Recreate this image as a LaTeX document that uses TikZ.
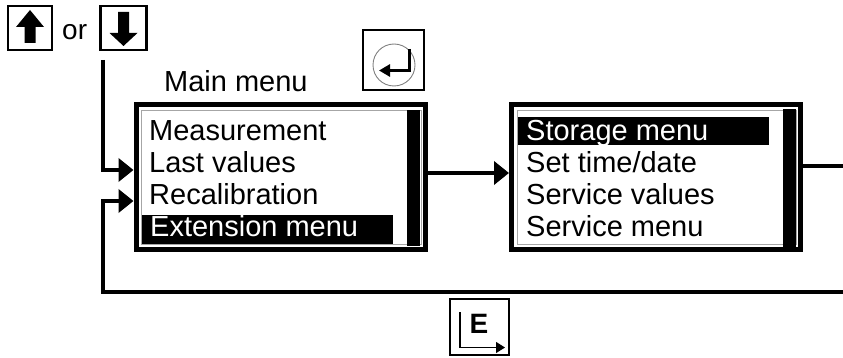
\documentclass[tikz,border=0pt]{standalone}
\usepackage{fontspec}
\setmainfont{Liberation Sans}
\usetikzlibrary{arrows.meta,calc}
\begin{document}
\begin{tikzpicture}[x=1pt,y=-1pt,
  menubox/.style={draw, line width=5pt, minimum width=289pt, minimum height=145pt, inner sep=0pt},
  keybox/.style={draw, line width=2.5pt, inner sep=0pt},
  item/.style={anchor=base west, inner sep=0pt, font=\fontsize{29}{29}\selectfont},
  hiitem/.style={item, text=white},
  innerline/.style={draw=gray!70, line width=0.8pt},
  conn/.style={line width=4.5pt},
  bigtip/.style={-{Triangle[length=15pt,width=23pt]}},
]
\useasboundingbox (0,0) rectangle (843,358);

% ---------- keys at top left ----------
\node[keybox, minimum width=44pt, minimum height=44pt] (upkey) at (30,28) {};
\fill (30,10) -- (44,27) -- (35.5,27) -- (35.5,43) -- (24.5,43) -- (24.5,27) -- (16,27) -- cycle;
\node[item, font=\fontsize{28}{28}\selectfont] (ortext) at (62,40) {or};
\node[keybox, minimum width=46pt, minimum height=44pt] (downkey) at (123.5,28) {};
\fill (123.5,46) -- (137.5,33) -- (129,33) -- (129,12) -- (118,12) -- (118,33) -- (109.5,33) -- cycle;

% ---------- enter key ----------
\node[keybox, minimum width=61pt, minimum height=60pt] (enterkey) at (393.5,60) {};
\draw[gray, line width=0.9pt] (394,65) circle (21);
\draw[line width=3pt, -{Triangle[length=11pt,width=12pt]}] (409.5,49) -- (409.5,70.5) -- (379,70.5);

% ---------- main menu ----------
\node[item] (maintitle) at (164,92) {Main menu};
\node[menubox] (mainbox) at (280.5,177) {};
\draw[innerline] (141,110) rectangle (421,244);
\fill (407,110) rectangle (420,246);
\node[item] (m1) at (149,140.5) {Measurement};
\node[item] (m2) at (149,172.5) {Last values};
\node[item] (m3) at (149,204.5) {Recalibration};
\fill (142,215) rectangle (393,244);
\node[hiitem] (m4) at (150,236.5) {Extension menu};

% ---------- extension menu ----------
\node[menubox] (secbox) at (656,177) {};
\draw[innerline] (517,110) rectangle (796,244);
\fill (783,109) rectangle (796,247);
\fill (518,117) rectangle (769,145);
\node[hiitem] (s1) at (526,140.5) {Storage menu};
\node[item] (s2) at (526,172.5) {Set time/date};
\node[item] (s3) at (526,204.5) {Service values};
\node[item] (s4) at (526,236.5) {Service menu};

% ---------- E key ----------
\node[keybox, minimum width=59pt, minimum height=56pt] (ekey) at (479.5,327) {};
\node[anchor=base west, inner sep=0pt, font=\fontsize{28}{28}\selectfont\bfseries] (etext) at (469.5,333) {E};
\draw[line width=1.2pt, -{Triangle[length=9pt,width=11pt]}] (460,312) -- (460,347.5) -- (505,347.5);

% ---------- connectors ----------
\coordinate (keysdown) at (103,60);
\coordinate (rightexit) at (843,166);
\coordinate (retright) at (843,292);
\coordinate (retleft) at (103,292);

\draw[conn, bigtip] (keysdown) |- ([yshift=7pt]mainbox.west);
\draw[conn, bigtip] ([yshift=4pt]mainbox.east) -- ([yshift=4pt]secbox.west);
\draw[conn] ([yshift=11pt]secbox.east) -- (rightexit);
\draw[conn, bigtip] (retright) -- (retleft) |- ([yshift=-24pt]mainbox.west);
\end{tikzpicture}
\end{document}
